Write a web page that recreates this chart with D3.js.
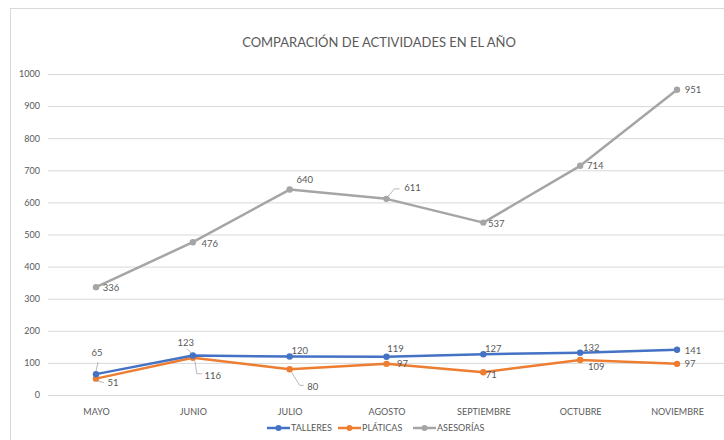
<!DOCTYPE html>
<html><head><meta charset="utf-8">
<script src="https://cdn.jsdelivr.net/npm/d3@7"></script>
<style>body{margin:0;background:#fff}svg{display:block}text{font-family:Lato,"Open Sans",sans-serif}</style>
</head><body><svg id="c" width="724" height="440"></svg>
<script>
const categories = ["MAYO","JUNIO","JULIO","AGOSTO","SEPTIEMBRE","OCTUBRE","NOVIEMBRE"];
const talleres = [65,123,120,119,127,132,141];
const platicas = [51,116,80,97,71,109,97];
const asesorias = [336,476,640,611,537,714,951];
const yTicks = [0,100,200,300,400,500,600,700,800,900,1000];
const seriesNames = ["TALLERES","PLÁTICAS","ASESORÍAS"];
const colors = ["#4472C4","#ED7D31","#A5A5A5"];
// label placement: [dx, dy, leader points relative to the data point]
const labelPlace = [
  [[1,-21,[[0,-3],[2,-12]]],[-7,-13,[[-1,-2],[-6,-7]]],[10,-6,null],[9,-8,null],[10,-6,null],[11,-5,null],[16,1,null]],
  [[17,4,[[1,2],[8,4]]],[20,18,[[2,3],[4,16],[9,16]]],[23,17,[[2,3],[10,16],[14,16]]],[16,0,null],[8,2,null],[16,7,null],[13,0,null]],
  [[15,1,null],[17,1,null],[15,-10,null],[26,-11,[[1,-2],[8,-10],[13,-10]]],[13,1,null],[15,0,null],[16,0,null]]
];
const data = [talleres, platicas, asesorias];

const svg = d3.select("#c");
svg.append("rect").attr("x",10.5).attr("y",8.5).attr("width",730).attr("height",440).attr("fill","#fff").attr("stroke","#d9d9d9");

const x = d3.scalePoint().domain(categories).range([96,677]);
const y = d3.scaleLinear().domain([0,1000]).range([395,74]);

const g = svg.append("g");
const yAx = g.append("g").attr("transform","translate(48,0)")
  .call(d3.axisLeft(y).tickValues(yTicks).tickSize(-700).tickPadding(8).tickFormat(d3.format("d")));
yAx.select(".domain").remove();
yAx.selectAll(".tick line").attr("stroke","#d9d9d9").attr("stroke-width",1);
yAx.selectAll(".tick text").attr("fill","#595959").attr("font-size",9).attr("font-family","Lato,sans-serif");

const xAx = g.append("g").attr("transform","translate(0,395)")
  .call(d3.axisBottom(x).tickSize(0).tickPadding(14));
xAx.select(".domain").remove();
xAx.selectAll(".tick text").attr("fill","#595959").attr("font-size",9).attr("font-family","Lato,sans-serif");

svg.append("text").attr("x",379).attr("y",47).attr("text-anchor","middle")
  .attr("fill","#595959").attr("font-size",13).text("COMPARACIÓN DE ACTIVIDADES EN EL AÑO");

const line = d3.line().x((d,i)=>x(categories[i])).y(d=>y(d));
[2,1,0].forEach(s=>{
  const vals = data[s];
  svg.append("path").datum(vals).attr("d",line).attr("fill","none")
    .attr("stroke",colors[s]).attr("stroke-width",2.5).attr("stroke-linejoin","round");
  svg.selectAll(null).data(vals).enter().append("circle")
    .attr("cx",(d,i)=>x(categories[i])).attr("cy",d=>y(d)).attr("r",3.2).attr("fill",colors[s]);
});
[0,1,2].forEach(s=>{
  const vals = data[s];
  vals.forEach((v,i)=>{
    const px = x(categories[i]), py = y(v);
    const [dx,dy,lead] = labelPlace[s][i];
    if(lead){
      svg.append("path").attr("d","M"+lead.map(p=>(px+p[0])+","+(py+p[1])).join("L"))
        .attr("fill","none").attr("stroke","#a6a6a6").attr("stroke-width",0.8);
    }
    svg.append("text").attr("x",px+dx).attr("y",py+dy).attr("text-anchor","middle").attr("dy","0.35em")
      .attr("fill","#595959").attr("font-size",9.5).text(v);
  });
});

// legend
const legX = [267,338,413];
seriesNames.forEach((n,s)=>{
  const lg = svg.append("g").attr("transform",`translate(${legX[s]},428)`);
  lg.append("line").attr("x1",0).attr("x2",23).attr("stroke",colors[s]).attr("stroke-width",2.5);
  lg.append("circle").attr("cx",11.5).attr("r",3).attr("fill",colors[s]);
  lg.append("text").attr("x",24).attr("dy","0.35em").attr("fill","#595959").attr("font-size",9).text(n);
});
</script></body></html>
